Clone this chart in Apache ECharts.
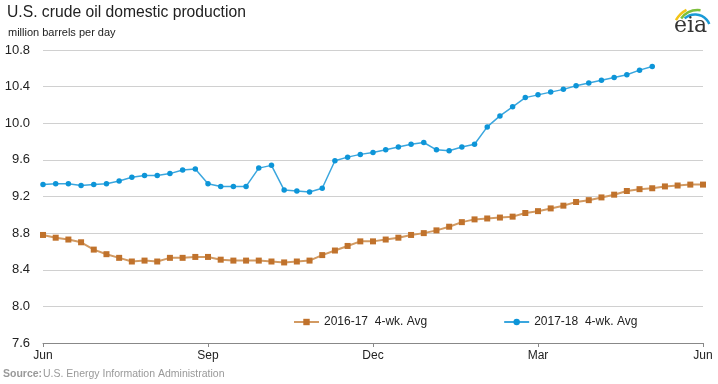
<!DOCTYPE html>
<html>
<head>
<meta charset="utf-8">
<script src="https://cdn.jsdelivr.net/npm/echarts@6/dist/echarts.min.js"></script>
<style>
html,body{margin:0;padding:0;background:#fff;}
#chart{width:718px;height:384px;}
</style>
</head>
<body>
<div id="chart"></div>
<script>
const weeks = Array.from({length: 53}, (_, i) => 'W' + (i + 1));
const tickWeeks = [0, 13, 26, 39, 52];
const tickLabels = ['Jun', 'Sep', 'Dec', 'Mar', 'Jun'];
const seriesNames = ['2016-17  4-wk. Avg', '2017-18  4-wk. Avg'];
const prod2016_17 = [8.78,8.75,8.73,8.70,8.62,8.57,8.53,8.49,8.50,8.49,
  8.53,8.53,8.54,8.54,8.51,8.50,8.50,8.50,8.49,8.48,
  8.49,8.50,8.56,8.61,8.66,8.71,8.71,8.73,8.75,8.78,
  8.80,8.83,8.87,8.92,8.95,8.96,8.97,8.98,9.02,9.04,
  9.07,9.10,9.14,9.16,9.19,9.22,9.26,9.28,9.29,9.31,
  9.32,9.33,9.33];
const prod2017_18 = [9.33,9.34,9.34,9.32,9.33,9.34,9.37,9.41,9.43,9.43,
  9.45,9.49,9.50,9.34,9.31,9.31,9.31,9.51,9.54,9.27,
  9.26,9.25,9.29,9.59,9.63,9.66,9.68,9.71,9.74,9.77,
  9.79,9.71,9.70,9.74,9.77,9.96,10.08,10.18,10.28,10.31,
  10.34,10.37,10.41,10.44,10.47,10.50,10.53,10.58,10.62];

const chart = echarts.init(document.getElementById('chart'), null, {renderer: 'canvas'});
const sans = '"Liberation Sans", Arial, sans-serif';
chart.setOption({
  animation: false,
  backgroundColor: '#fff',
  textStyle: {fontFamily: sans},
  grid: {left: 43, right: 15, top: 50, bottom: 41, containLabel: false},
  title: [
    {text: 'U.S. crude oil domestic production', left: 7, top: 5, padding: 0,
     textStyle: {fontSize: 15.7, fontWeight: 'normal', color: '#222', fontFamily: sans}},
    {text: 'million barrels per day', left: 8, top: 27, padding: 0,
     textStyle: {fontSize: 11, fontWeight: 'normal', color: '#222', fontFamily: sans}}
  ],
  legend: {
    left: 293, top: 316, padding: 0,
    itemWidth: 25, itemHeight: 8, itemGap: 76,
    textStyle: {fontSize: 12, color: '#222', fontFamily: sans},
    data: seriesNames
  },
  xAxis: {
    type: 'category', data: weeks, boundaryGap: false,
    axisLine: {lineStyle: {color: '#888', width: 1}},
    axisTick: {interval: (i) => tickWeeks.includes(i), length: 4, lineStyle: {color: '#888'}},
    axisLabel: {
      interval: (i) => tickWeeks.includes(i),
      formatter: (v, i) => { const k = tickWeeks.indexOf(i); return k >= 0 ? tickLabels[k] : ''; },
      fontFamily: sans, fontSize: 12, color: '#222', margin: 7
    },
    splitLine: {show: false}
  },
  yAxis: {
    type: 'value', min: 7.6, max: 10.8, interval: 0.4,
    axisLine: {show: false}, axisTick: {show: false},
    axisLabel: {formatter: (v) => v.toFixed(1), fontSize: 13, color: '#222', margin: 13, fontFamily: sans},
    splitLine: {lineStyle: {color: '#d0d0d0', width: 1}}
  },
  series: [
    {name: seriesNames[0], type: 'line', data: prod2016_17,
     symbol: 'rect', symbolSize: 6, showSymbol: true,
     itemStyle: {color: '#c0722c'},
     lineStyle: {color: '#d29a62', width: 2}},
    {name: seriesNames[1], type: 'line', data: prod2017_18,
     symbol: 'circle', symbolSize: 5.5, showSymbol: true,
     itemStyle: {color: '#0d95d8'},
     lineStyle: {color: '#3aa6de', width: 1.5}}
  ],
  graphic: [
    {type: 'text', left: 3, top: 369,
     style: {text: 'Source:', font: 'bold 10.5px ' + sans, fill: '#999'}},
    {type: 'text', left: 43, top: 369,
     style: {text: 'U.S. Energy Information Administration', font: '10.5px ' + sans, fill: '#999'}},
    {type: 'arc', shape: {cx: 698, cy: 32, r: 25, startAngle: -2.65, endAngle: -2.05},
     style: {stroke: '#f2c417', lineWidth: 2.5, fill: null}},
    {type: 'arc', shape: {cx: 698, cy: 31, r: 21, startAngle: -2.5, endAngle: -1.45},
     style: {stroke: '#7cbf3c', lineWidth: 2.5, fill: null}},
    {type: 'arc', shape: {cx: 695, cy: 30, r: 15.5, startAngle: -2.3, endAngle: -0.4},
     style: {stroke: '#1a9ad6', lineWidth: 2.5, fill: null}},
    {type: 'text', left: 674, top: 15,
     style: {text: 'eia', font: '22px "DejaVu Serif", "Liberation Serif", serif', fill: '#333'}}
  ]
});
</script>
</body>
</html>
